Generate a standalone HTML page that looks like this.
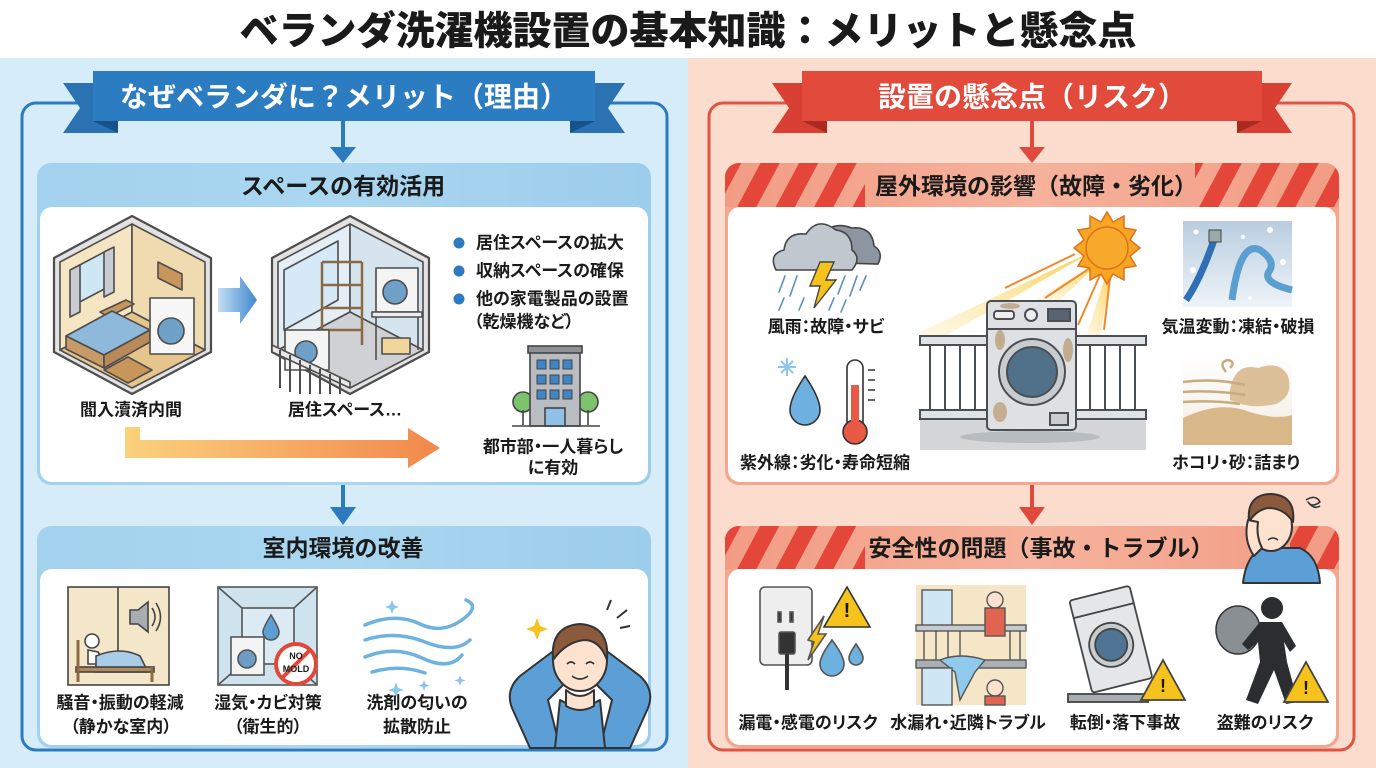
<!DOCTYPE html>
<html><head><meta charset="utf-8">
<style>
html,body{margin:0;padding:0;width:1376px;height:768px;overflow:hidden;background:#fff}
svg{display:block}
text{font-family:"Liberation Sans","Noto Sans CJK JP",sans-serif;font-weight:700;fill:#1a1a1a}
.p{font-feature-settings:"palt" 1}
</style></head><body>
<svg width="1376" height="768" viewBox="0 0 1376 768" xmlns="http://www.w3.org/2000/svg">
<defs>
 <pattern id="stripe" width="34" height="34" patternUnits="userSpaceOnUse" patternTransform="rotate(28)"><rect width="17" height="34" fill="#e4473a"/></pattern>
 <linearGradient id="orange" x1="0" x2="1"><stop offset="0" stop-color="#fbd27c"/><stop offset="1" stop-color="#f2874c"/></linearGradient>
 <linearGradient id="blueArr" x1="0" x2="1"><stop offset="0" stop-color="#c2ddf2"/><stop offset="1" stop-color="#3f88cf"/></linearGradient>
 <linearGradient id="hdrB" x1="0" x2="1"><stop offset="0" stop-color="#a3d2ee"/><stop offset="0.5" stop-color="#aad6f0"/><stop offset="1" stop-color="#9ccdec"/></linearGradient>
 <linearGradient id="hdrR" x1="0" x2="1"><stop offset="0" stop-color="#f29c84"/><stop offset="0.5" stop-color="#f6b29c"/><stop offset="1" stop-color="#f29c84"/></linearGradient>
 <linearGradient id="ice" x1="0" y1="0" x2="0" y2="1"><stop offset="0" stop-color="#b9cde0"/><stop offset="1" stop-color="#eef4f8"/></linearGradient>
 <linearGradient id="dust" x1="0" y1="0" x2="0" y2="1"><stop offset="0" stop-color="#ffffff"/><stop offset="1" stop-color="#f3ebe0"/></linearGradient>
 <linearGradient id="ray" x1="1" y1="0" x2="0" y2="1"><stop offset="0" stop-color="#fbc83c" stop-opacity="0.9"/><stop offset="1" stop-color="#fde9a0" stop-opacity="0.2"/></linearGradient>
 <clipPath id="cR1"><rect x="725" y="163" width="614" height="60" rx="14"/></clipPath>
 <clipPath id="cR2"><rect x="725" y="526" width="614" height="60" rx="14"/></clipPath>
</defs>

<rect x="0" y="0" width="1376" height="768" fill="#ffffff"/>
<rect x="0" y="58" width="688" height="710" fill="#d6ecf8"/>
<rect x="688" y="58" width="688" height="710" fill="#fbdccd"/>

<text x="688" y="32" font-size="39" text-anchor="middle" dominant-baseline="central" style="font-weight:900">ベランダ洗濯機設置の基本知識：メリットと懸念点</text>

<!-- ================= LEFT ================= -->
<rect x="22" y="103" width="645" height="647" rx="14" fill="none" stroke="#2c7bc0" stroke-width="3"/>
<polygon points="63,83 118,83 118,133 63,133 80,108" fill="#2a72b2"/>
<polygon points="93,121 118,121 118,133" fill="#17518a"/>
<polygon points="570,83 625,83 608,108 625,133 570,133" fill="#2a72b2"/>
<polygon points="570,121 595,121 570,133" fill="#17518a"/>
<rect x="93" y="71" width="502" height="50" fill="#2b7cc1"/>
<text x="344" y="97" font-size="28" text-anchor="middle" dominant-baseline="central" style="fill:#fff">なぜベランダに？メリット（理由）</text>
<line x1="343" y1="121" x2="343" y2="150" stroke="#2c7bc0" stroke-width="4"/>
<polygon points="330,147 356,147 343,163" fill="#2c7bc0"/>

<rect x="37" y="163" width="614" height="322" rx="14" fill="url(#hdrB)"/>
<rect x="40" y="207" width="608" height="275" rx="12" fill="#fff"/>
<text x="343" y="186" font-size="23" text-anchor="middle" dominant-baseline="central">スペースの有効活用</text>

<g stroke="#4d4d4d" stroke-width="1.6" stroke-linejoin="round">
 <polygon points="132,216 211,258 211,352 132,394 54,352 54,258" fill="#e2e2e2" stroke-width="2.2"/>
 <polygon points="60,262 132,224 132,312 60,350" fill="#f6e5c2"/>
 <polygon points="132,224 205,262 205,350 132,312" fill="#f0dbb0"/>
 <polygon points="132,312 205,350 132,388 60,350" fill="#e6c58c"/>
 <polygon points="74,268 110,249 110,286 74,305" fill="#cfe6f5"/>
 <polygon points="70,270 80,265 80,312 70,317" fill="#c9ccd2"/>
 <polygon points="104,252 114,247 114,292 104,297" fill="#c9ccd2"/>
 <polygon points="158,262 182,274 182,290 158,278" fill="#c8955a"/>
 <polygon points="100,312 126,300 134,304 108,317" fill="#c8955a"/>
 <polygon points="66,336 112,311 150,330 104,355" fill="#8fb9da"/>
 <polygon points="66,336 104,355 104,368 66,349" fill="#c89a66"/>
 <polygon points="104,355 150,330 150,342 104,368" fill="#b98a58"/>
 <rect x="150" y="298" width="44" height="56" fill="#f7f7f7"/>
 <circle cx="171" cy="331" r="13" fill="#6fa0c8"/>
 <polygon points="104,370 128,357 152,370 128,383" fill="#c8955a"/>
</g>
<polygon points="218,288 240,288 240,276 257,300 240,324 240,312 218,312" fill="url(#blueArr)"/>
<g stroke="#4d4d4d" stroke-width="1.6" stroke-linejoin="round">
 <polygon points="350,216 429,258 429,352 350,394 272,352 272,258" fill="#e2e2e2" stroke-width="2.2"/>
 <polygon points="278,262 350,224 350,312 278,350" fill="#e4eef5"/>
 <polygon points="350,224 423,262 423,350 350,312" fill="#d6e4ee"/>
 <polygon points="350,312 423,350 350,388 278,350" fill="#cfd1d4"/>
 <polygon points="284,270 338,241 338,300 284,330" fill="#d5e9f6"/>
 <g fill="none" stroke="#8a6a45" stroke-width="2.5">
  <line x1="322" y1="262" x2="322" y2="345"/><line x1="362" y1="262" x2="362" y2="345"/>
  <line x1="322" y1="262" x2="362" y2="262"/><line x1="322" y1="285" x2="362" y2="285"/>
  <line x1="322" y1="308" x2="362" y2="308"/><line x1="322" y1="330" x2="362" y2="330"/>
 </g>
 <rect x="376" y="268" width="42" height="44" fill="#f4f4f4"/>
 <circle cx="395" cy="292" r="12" fill="#6fa0c8"/>
 <rect x="372" y="312" width="50" height="5" fill="#eee"/>
 <line x1="376" y1="317" x2="376" y2="360"/><line x1="418" y1="317" x2="418" y2="350"/>
 <rect x="382" y="338" width="28" height="16" fill="#f2d59a"/>
 <rect x="285" y="330" width="44" height="40" fill="#f4f4f4"/>
 <circle cx="306" cy="352" r="11" fill="#6fa0c8"/>
 <polygon points="272,345 350,382 350,388 272,352" fill="#e8e8e8"/>
 <g stroke-width="2">
  <line x1="280" y1="350" x2="280" y2="388"/><line x1="290" y1="355" x2="290" y2="392"/>
  <line x1="300" y1="360" x2="300" y2="394"/><line x1="310" y1="365" x2="310" y2="394"/>
  <line x1="320" y1="369" x2="320" y2="394"/><line x1="330" y1="374" x2="330" y2="394"/>
  <line x1="340" y1="378" x2="340" y2="394"/>
 </g>
</g>
<text class="p" x="131" y="410" font-size="17" text-anchor="middle" dominant-baseline="central">閻入瀆済内間</text>
<text class="p" x="345" y="410" font-size="17" text-anchor="middle" dominant-baseline="central">居住スペース…</text>
<circle cx="459" cy="243" r="5.5" fill="#2c7bc0"/>
<circle cx="459" cy="271" r="5.5" fill="#2c7bc0"/>
<circle cx="459" cy="299" r="5.5" fill="#2c7bc0"/>
<text class="p" x="476" y="243" font-size="17" dominant-baseline="central">居住スペースの拡大</text>
<text class="p" x="476" y="271" font-size="17" dominant-baseline="central">収納スペースの確保</text>
<text class="p" x="476" y="299" font-size="17" dominant-baseline="central">他の家電製品の設置</text>
<text class="p" x="474" y="322" font-size="17" dominant-baseline="central">（乾燥機など）</text>
<g stroke="#444" stroke-width="1.6">
 <circle cx="523" cy="402" r="10" fill="#7cc36e"/><line x1="523" y1="410" x2="523" y2="425"/>
 <circle cx="588" cy="402" r="10" fill="#7cc36e"/><line x1="588" y1="410" x2="588" y2="425"/>
 <rect x="530" y="352" width="50" height="74" fill="#b9bdc1"/>
 <rect x="528" y="346" width="54" height="7" fill="#8f9398"/>
 <g fill="#3f86c7" stroke-width="1">
  <rect x="537" y="360" width="9" height="9"/><rect x="550" y="360" width="9" height="9"/><rect x="563" y="360" width="9" height="9"/>
  <rect x="537" y="375" width="9" height="9"/><rect x="550" y="375" width="9" height="9"/><rect x="563" y="375" width="9" height="9"/>
  <rect x="537" y="390" width="9" height="9"/><rect x="550" y="390" width="9" height="9"/><rect x="563" y="390" width="9" height="9"/>
 </g>
 <rect x="545" y="408" width="20" height="18" fill="#8fc0e6"/>
 <line x1="512" y1="426" x2="600" y2="426"/>
</g>
<text class="p" x="553" y="447" font-size="17" text-anchor="middle" dominant-baseline="central">都市部・一人暮らし</text>
<text class="p" x="553" y="468" font-size="17" text-anchor="middle" dominant-baseline="central">に有効</text>
<polygon points="125,427 140,427 140,440 408,440 408,428 440,448 408,468 408,458 125,458" fill="url(#orange)"/>

<line x1="343" y1="485" x2="343" y2="510" stroke="#2c7bc0" stroke-width="4"/>
<polygon points="330,507 356,507 343,525" fill="#2c7bc0"/>

<rect x="37" y="526" width="614" height="222" rx="14" fill="url(#hdrB)"/>
<rect x="40" y="569" width="608" height="176" rx="12" fill="#fff"/>
<text x="343" y="548" font-size="23" text-anchor="middle" dominant-baseline="central">室内環境の改善</text>

<g stroke="#444" stroke-width="1.6">
 <rect x="68" y="587" width="101" height="98" fill="#f4e7c9"/>
 <line x1="118" y1="587" x2="118" y2="670"/>
 <polygon points="130,610 138,610 148,602 148,632 138,624 130,624" fill="#a9adb2"/>
 <path d="M152,608 Q158,617 152,626 M156,603 Q165,617 156,631" fill="none"/>
 <circle cx="92" cy="641" r="7" fill="#fff"/>
 <path d="M88,650 L98,652 L106,664 L88,664 Z" fill="#fff"/>
 <path d="M96,656 Q120,646 140,656 L148,672 L96,672 Z" fill="#a9cde8"/>
 <rect x="76" y="667" width="78" height="5" fill="#b08a5c"/>
 <line x1="78" y1="640" x2="78" y2="682" stroke-width="3" stroke="#8c6a44"/>
 <line x1="152" y1="667" x2="152" y2="682" stroke-width="3" stroke="#8c6a44"/>
</g>
<g stroke="#555" stroke-width="1.6">
 <rect x="218" y="587" width="99" height="98" fill="#cfe3ef"/>
 <rect x="242" y="608" width="52" height="56" fill="#dbeaf3"/>
 <line x1="218" y1="587" x2="242" y2="608"/><line x1="317" y1="587" x2="294" y2="608"/>
 <line x1="218" y1="685" x2="242" y2="664"/><line x1="317" y1="685" x2="294" y2="664"/>
 <path d="M271,615 Q263,628 263,632 A8,8 0 0 0 279,632 Q279,628 271,615 Z" fill="#5aa0d6"/>
 <rect x="231" y="637" width="33" height="38" fill="#f4f4f4"/>
 <circle cx="247" cy="659" r="9" fill="#6e9cc2"/>
 <circle cx="296" cy="664" r="20" fill="#fff" stroke="#e0483a" stroke-width="4"/>
 <line x1="282" y1="678" x2="310" y2="650" stroke="#e0483a" stroke-width="4"/>
</g>
<text x="296" y="656" font-size="9" text-anchor="middle" dominant-baseline="central">NO</text>
<text x="296" y="669" font-size="9" text-anchor="middle" dominant-baseline="central">MOLD</text>
<g fill="none" stroke="#6eb3e0" stroke-width="3.5" stroke-linecap="round">
 <path d="M365,625 Q395,612 420,624 T468,615 Q478,605 466,600"/>
 <path d="M365,640 Q395,630 425,642 T470,640"/>
 <path d="M365,657 Q395,645 422,658 T462,655"/>
 <path d="M372,672 Q400,664 425,673"/>
</g>
<g fill="#8cc7ea">
 <path d="M392,600 l2,5 5,2 -5,2 -2,5 -2,-5 -5,-2 5,-2z"/>
 <path d="M396,682 l2,6 6,2 -6,2 -2,6 -2,-6 -6,-2 6,-2z"/>
 <path d="M460,675 l1.5,4 4,1.5 -4,1.5 -1.5,4 -1.5,-4 -4,-1.5 4,-1.5z"/>
 <path d="M424,680 l1.5,4 4,1.5 -4,1.5 -1.5,4 -1.5,-4 -4,-1.5 4,-1.5z"/>
</g>
<text class="p" x="120" y="703" font-size="17" text-anchor="middle" dominant-baseline="central">騒音・振動の軽減</text>
<text class="p" x="121" y="727" font-size="17" text-anchor="middle" dominant-baseline="central">（静かな室内）</text>
<text class="p" x="268" y="703" font-size="17" text-anchor="middle" dominant-baseline="central">湿気・カビ対策</text>
<text class="p" x="268" y="727" font-size="17" text-anchor="middle" dominant-baseline="central">（衛生的）</text>
<text class="p" x="417" y="703" font-size="17" text-anchor="middle" dominant-baseline="central">洗剤の匂いの</text>
<text class="p" x="417" y="727" font-size="17" text-anchor="middle" dominant-baseline="central">拡散防止</text>
<g stroke="#333" stroke-width="2" stroke-linejoin="round">
 <path d="M530,748 L512,708 Q505,690 520,676 L560,646 L572,676 L548,700 L560,748 Z" fill="#5c9fd6"/>
 <path d="M630,748 L648,708 Q655,690 640,676 L600,646 L588,676 L612,700 L600,748 Z" fill="#5c9fd6"/>
 <path d="M555,748 L560,700 Q580,712 600,700 L605,748 Z" fill="#5c9fd6"/>
 <path d="M566,690 Q580,702 594,690 L594,706 Q580,714 566,706 Z" fill="#fde3cf"/>
 <ellipse cx="580" cy="660" rx="27" ry="31" fill="#fde3cf"/>
 <path d="M553,660 Q550,626 580,624 Q610,626 607,660 Q600,640 584,640 Q566,642 553,660 Z" fill="#8b5a3c"/>
 <path d="M567,664 q4,-4 8,0 M586,664 q4,-4 8,0 M572,676 q8,6 16,0" fill="none" stroke-width="1.6"/>
</g>
<path d="M537,618 l3,8 8,3 -8,3 -3,8 -3,-8 -8,-3 8,-3z" fill="#f6c21c"/>
<g stroke="#333" stroke-width="2"><line x1="607" y1="610" x2="611" y2="600"/><line x1="617" y1="618" x2="627" y2="610"/><line x1="620" y1="628" x2="630" y2="626"/></g>

<!-- ================= RIGHT ================= -->
<rect x="709" y="103" width="645" height="647" rx="14" fill="none" stroke="#e05443" stroke-width="3"/>
<polygon points="772,83 827,83 827,133 772,133 789,108" fill="#d84033"/>
<polygon points="802,121 827,121 827,133" fill="#a82a20"/>
<polygon points="1237,83 1292,83 1275,108 1292,133 1237,133" fill="#d84033"/>
<polygon points="1237,121 1262,121 1237,133" fill="#a82a20"/>
<rect x="802" y="71" width="460" height="50" fill="#e24a3c"/>
<text x="1032" y="97" font-size="28" text-anchor="middle" dominant-baseline="central" style="fill:#fff">設置の懸念点（リスク）</text>
<line x1="1032" y1="121" x2="1032" y2="150" stroke="#e04a3c" stroke-width="4"/>
<polygon points="1019,147 1045,147 1032,163" fill="#e04a3c"/>

<rect x="725" y="163" width="614" height="322" rx="14" fill="#f4a68f"/>
<g clip-path="url(#cR1)">
 <rect x="725" y="163" width="614" height="44" fill="url(#hdrR)"/>
 <rect x="725" y="163" width="140" height="44" fill="url(#stripe)"/>
 <rect x="1195" y="163" width="145" height="44" fill="url(#stripe)"/>
</g>
<rect x="728" y="207" width="608" height="275" rx="12" fill="#fff"/>
<text x="1036" y="186" font-size="23" text-anchor="middle" dominant-baseline="central">屋外環境の影響（故障・劣化）</text>

<g stroke="#444" stroke-width="1.6">
 <path d="M810,262 Q800,240 822,238 Q830,220 852,228 Q872,226 874,246 Q884,252 878,264 Z" fill="#8d96a0"/>
 <path d="M776,270 Q768,254 784,250 Q786,232 806,234 Q818,216 836,230 Q852,232 852,250 Q862,258 852,270 Z" fill="#c0c7ce"/>
</g>
<g stroke="#5b8fc0" stroke-width="1.6" stroke-linecap="round">
 <line x1="785" y1="276" x2="779" y2="292"/><line x1="797" y1="276" x2="790" y2="296"/><line x1="784" y1="298" x2="779" y2="310"/>
 <line x1="845" y1="276" x2="838" y2="294"/><line x1="857" y1="276" x2="850" y2="296"/><line x1="846" y1="300" x2="841" y2="312"/>
 <line x1="866" y1="276" x2="860" y2="290"/><line x1="804" y1="298" x2="799" y2="310"/><line x1="834" y1="298" x2="829" y2="310"/>
</g>
<polygon points="820,262 834,262 826,280 836,280 814,308 820,286 810,286" fill="#f6c21c" stroke="#444" stroke-width="1.4"/>
<text class="p" x="826" y="327" font-size="17" text-anchor="middle" dominant-baseline="central">風雨：故障・サビ</text>
<path d="M805,376 Q790,398 790,410 A15,15 0 0 0 820,410 Q820,398 805,376 Z" fill="#6eb1e0" stroke="#333" stroke-width="1.6"/>
<rect x="847" y="360" width="16" height="70" rx="8" fill="#fff" stroke="#333" stroke-width="1.6"/>
<circle cx="855" cy="432" r="12" fill="#e85a45" stroke="#333" stroke-width="1.6"/>
<rect x="851" y="385" width="8" height="45" fill="#e85a45"/>
<g stroke="#333" stroke-width="1.5"><line x1="868" y1="370" x2="875" y2="370"/><line x1="868" y1="380" x2="875" y2="380"/><line x1="868" y1="390" x2="875" y2="390"/><line x1="868" y1="400" x2="875" y2="400"/></g>
<g stroke="#8cc7ea" stroke-width="2"><line x1="787" y1="358" x2="787" y2="376"/><line x1="778" y1="367" x2="796" y2="367"/><line x1="781" y1="361" x2="793" y2="373"/><line x1="793" y1="361" x2="781" y2="373"/></g>
<text class="p" x="825" y="463" font-size="17" text-anchor="middle" dominant-baseline="central">紫外線：劣化・寿命短縮</text>

<rect x="920" y="418" width="226" height="32" fill="#d4d6d8"/>
<polygon points="1095,250 920,332 920,350 1000,305" fill="url(#ray)"/>
<polygon points="1100,262 1035,300 1060,300" fill="url(#ray)"/>
<polygon points="1108,268 1085,340 1098,345 1112,270" fill="url(#ray)"/>
<g stroke="#ef8a2a" stroke-width="2"><line x1="1075" y1="254" x2="1005" y2="288"/><line x1="1090" y1="268" x2="1045" y2="298"/><line x1="1100" y1="275" x2="1078" y2="325"/><line x1="1110" y1="278" x2="1104" y2="330"/></g>
<g fill="#f5a623" stroke="#e0701a" stroke-width="1.5">
 <polygon points="1107,212 1113,222 1124,216 1124,228 1136,230 1130,240 1140,248 1130,256 1136,266 1124,268 1124,280 1113,274 1107,284 1101,274 1090,280 1090,268 1078,266 1084,256 1074,248 1084,240 1078,230 1090,228 1090,216 1101,222"/>
 <circle cx="1107" cy="248" r="21" fill="#f6a92b"/>
</g>
<g stroke="#4a4f55" stroke-width="2" fill="#dfe3e6">
 <rect x="920" y="336" width="226" height="9"/>
 <rect x="920" y="410" width="226" height="9"/>
 <line x1="930" y1="345" x2="930" y2="410"/><line x1="945" y1="345" x2="945" y2="410"/><line x1="960" y1="345" x2="960" y2="410"/><line x1="975" y1="345" x2="975" y2="410"/>
 <line x1="1090" y1="345" x2="1090" y2="410"/><line x1="1105" y1="345" x2="1105" y2="410"/><line x1="1120" y1="345" x2="1120" y2="410"/><line x1="1135" y1="345" x2="1135" y2="410"/>
</g>
<ellipse cx="1030" cy="437" rx="70" ry="6" fill="#b7bcc0"/>
<g stroke="#4a4f55" stroke-width="2">
 <rect x="987" y="301" width="89" height="129" rx="4" fill="#dde1e4"/>
 <line x1="987" y1="329" x2="1076" y2="329"/>
 <rect x="994" y="311" width="20" height="8" rx="3" fill="#eee"/>
 <circle cx="1031" cy="315" r="6" fill="#eee"/>
 <rect x="1048" y="309" width="22" height="12" fill="#5a6470"/>
 <circle cx="1032" cy="372" r="33" fill="#c9ccce"/>
 <circle cx="1032" cy="372" r="25" fill="#51708a"/>
 <rect x="1050" y="413" width="18" height="12" fill="#ccc"/>
</g>
<g fill="#b58a5a" opacity="0.6"><ellipse cx="1000" cy="340" rx="5" ry="10"/><ellipse cx="1068" cy="350" rx="5" ry="12"/><ellipse cx="1000" cy="412" rx="7" ry="10"/><ellipse cx="1010" cy="306" rx="10" ry="3"/></g>

<rect x="1183" y="221" width="109" height="86" fill="url(#ice)"/>
<path d="M1214,240 Q1200,280 1186,300" fill="none" stroke="#2f6fb6" stroke-width="7"/>
<path d="M1232,300 Q1240,240 1260,250 Q1275,260 1270,270 Q1260,282 1292,290" fill="none" stroke="#5a9fd0" stroke-width="7"/>
<rect x="1209" y="230" width="12" height="12" fill="#9aa" stroke="#444"/>
<g fill="#fff"><circle cx="1196" cy="232" r="2.5"/><circle cx="1270" cy="230" r="3"/><circle cx="1243" cy="237" r="2"/><circle cx="1283" cy="262" r="3"/><circle cx="1193" cy="270" r="3"/><circle cx="1250" cy="298" r="2"/></g>
<text class="p" x="1238" y="327" font-size="17" text-anchor="middle" dominant-baseline="central">気温変動：凍結・破損</text>
<rect x="1183" y="355" width="109" height="90" fill="url(#dust)"/>
<path d="M1183,445 L1183,418 Q1220,400 1250,412 Q1275,420 1292,415 L1292,445 Z" fill="#d8b888"/>
<path d="M1230,390 Q1235,362 1258,368 Q1280,360 1288,376 Q1294,396 1276,404 Q1250,410 1230,400 Z" fill="#dcc09a"/>
<g fill="none" stroke="#c9ab80" stroke-width="2.5"><path d="M1183,382 Q1215,378 1245,385"/><path d="M1183,392 Q1215,390 1245,395"/><path d="M1183,402 Q1215,400 1240,404"/><path d="M1226,372 q-8,-10 2,-12 q8,2 2,8"/></g>
<text class="p" x="1236" y="463" font-size="17" text-anchor="middle" dominant-baseline="central">ホコリ・砂：詰まり</text>

<line x1="1032" y1="485" x2="1032" y2="510" stroke="#e04a3c" stroke-width="4"/>
<polygon points="1019,507 1045,507 1032,525" fill="#e04a3c"/>

<rect x="725" y="526" width="614" height="222" rx="14" fill="#f4a68f"/>
<g clip-path="url(#cR2)">
 <rect x="725" y="526" width="614" height="43" fill="url(#hdrR)"/>
 <rect x="725" y="526" width="140" height="43" fill="url(#stripe)"/>
 <rect x="1290" y="526" width="50" height="43" fill="url(#stripe)"/>
</g>
<rect x="728" y="569" width="608" height="176" rx="12" fill="#fff"/>
<text x="1041" y="548" font-size="23" text-anchor="middle" dominant-baseline="central">安全性の問題（事故・トラブル）</text>

<g stroke="#333" stroke-width="2" stroke-linejoin="round">
 <path d="M1243,583 Q1246,556 1262,548 L1300,548 Q1318,556 1320,583 Z" fill="#5c9fd6"/>
 <ellipse cx="1271" cy="526" rx="21" ry="25" fill="#fde3cf"/>
 <path d="M1249,522 Q1246,494 1272,494 Q1296,496 1293,522 Q1284,508 1268,508 Q1256,510 1249,522 Z" fill="#8b5a3c"/>
 <path d="M1248,520 Q1243,540 1254,556 L1262,548 Q1256,536 1258,522 Z" fill="#fde3cf"/>
 <path d="M1268,540 q5,-4 10,0" fill="none" stroke-width="1.5"/>
 <path d="M1306,500 q10,-6 14,2 q-8,6 -12,0 q6,8 12,4" fill="none" stroke-width="1.5"/>
</g>

<g stroke="#555" stroke-width="1.6">
 <rect x="760" y="587" width="52" height="78" rx="5" fill="#eeeeee"/>
 <rect x="778" y="612" width="3" height="10" fill="#333"/><rect x="790" y="612" width="3" height="10" fill="#333"/>
 <rect x="779" y="632" width="16" height="22" rx="2" fill="#333"/>
 <line x1="787" y1="654" x2="787" y2="690" stroke="#333" stroke-width="4"/>
 <polygon points="847,587 870,627 824,627" fill="#f6c21c" stroke="#333"/>
 <polygon points="808,640 824,616 818,634 826,634 808,660 814,642" fill="#f6c21c"/>
 <path d="M832,640 Q820,656 820,664 A12,12 0 0 0 844,664 Q844,656 832,640 Z" fill="#6eb1e0"/>
 <path d="M856,644 Q849,654 849,658 A7,7 0 0 0 863,658 Q863,654 856,644 Z" fill="#6eb1e0"/>
</g>
<text x="847" y="611" font-size="20" text-anchor="middle" dominant-baseline="central">!</text>
<g stroke="#555" stroke-width="1.4">
 <rect x="916" y="585" width="110" height="120" fill="#f6e6c8" stroke="none"/>
 <rect x="922" y="590" width="30" height="40" fill="#cfe6f5"/>
 <rect x="916" y="625" width="110" height="6" fill="#c7cbd0"/>
 <line x1="924" y1="631" x2="924" y2="660"/><line x1="936" y1="631" x2="936" y2="660"/><line x1="948" y1="631" x2="948" y2="660"/><line x1="960" y1="631" x2="960" y2="660"/><line x1="1010" y1="631" x2="1010" y2="660"/><line x1="1020" y1="631" x2="1020" y2="660"/>
 <rect x="916" y="660" width="110" height="8" fill="#a9afb5"/>
 <path d="M940,660 Q960,652 985,660 L975,672 L960,700 L955,672 Z" fill="#8fc9ec"/>
 <rect x="922" y="668" width="30" height="37" fill="#cfe6f5"/>
 <circle cx="995" cy="600" r="8" fill="#fde3cf"/><rect x="985" y="608" width="20" height="28" fill="#e0644f"/>
 <circle cx="995" cy="688" r="8" fill="#fde3cf"/><rect x="985" y="696" width="20" height="9" fill="#e0644f"/>
</g>
<g stroke="#444" stroke-width="1.8">
 <rect x="1068" y="694" width="80" height="8" fill="#a9adb1"/>
 <g transform="rotate(-14 1110 640)">
  <rect x="1080" y="592" width="62" height="95" rx="3" fill="#e4e6e8"/>
  <line x1="1080" y1="610" x2="1142" y2="610"/>
  <circle cx="1110" cy="645" r="22" fill="#c9ccce"/><circle cx="1110" cy="645" r="16" fill="#4f7494"/>
 </g>
 <polygon points="1163,660 1185,700 1141,700" fill="#f6c21c"/>
</g>
<text x="1163" y="686" font-size="18" text-anchor="middle" dominant-baseline="central">!</text>
<!-- thief -->
<ellipse cx="1238" cy="630" rx="22" ry="24" fill="#8a8f94" stroke="#333" stroke-width="1.5"/>
<circle cx="1272" cy="608" r="11" fill="#2b2d31"/>
<path d="M1260,622 L1282,622 L1296,646 L1290,652 L1284,642 L1287,662 L1298,702 L1286,704 L1274,670 L1258,704 L1246,700 L1260,662 L1258,642 L1248,650 L1242,644 Z" fill="#2b2d31"/>
<polygon points="1306,662 1328,702 1284,702" fill="#f6c21c" stroke="#444" stroke-width="1.8"/>
<text x="1306" y="688" font-size="18" text-anchor="middle" dominant-baseline="central">!</text>

<text class="p" x="808" y="723" font-size="17" text-anchor="middle" dominant-baseline="central">漏電・感電のリスク</text>
<text class="p" x="968" y="723" font-size="17" text-anchor="middle" dominant-baseline="central">水漏れ・近隣トラブル</text>
<text class="p" x="1125" y="723" font-size="17" text-anchor="middle" dominant-baseline="central">転倒・落下事故</text>
<text class="p" x="1265" y="723" font-size="17" text-anchor="middle" dominant-baseline="central">盗難のリスク</text>
</svg>
</body></html>
